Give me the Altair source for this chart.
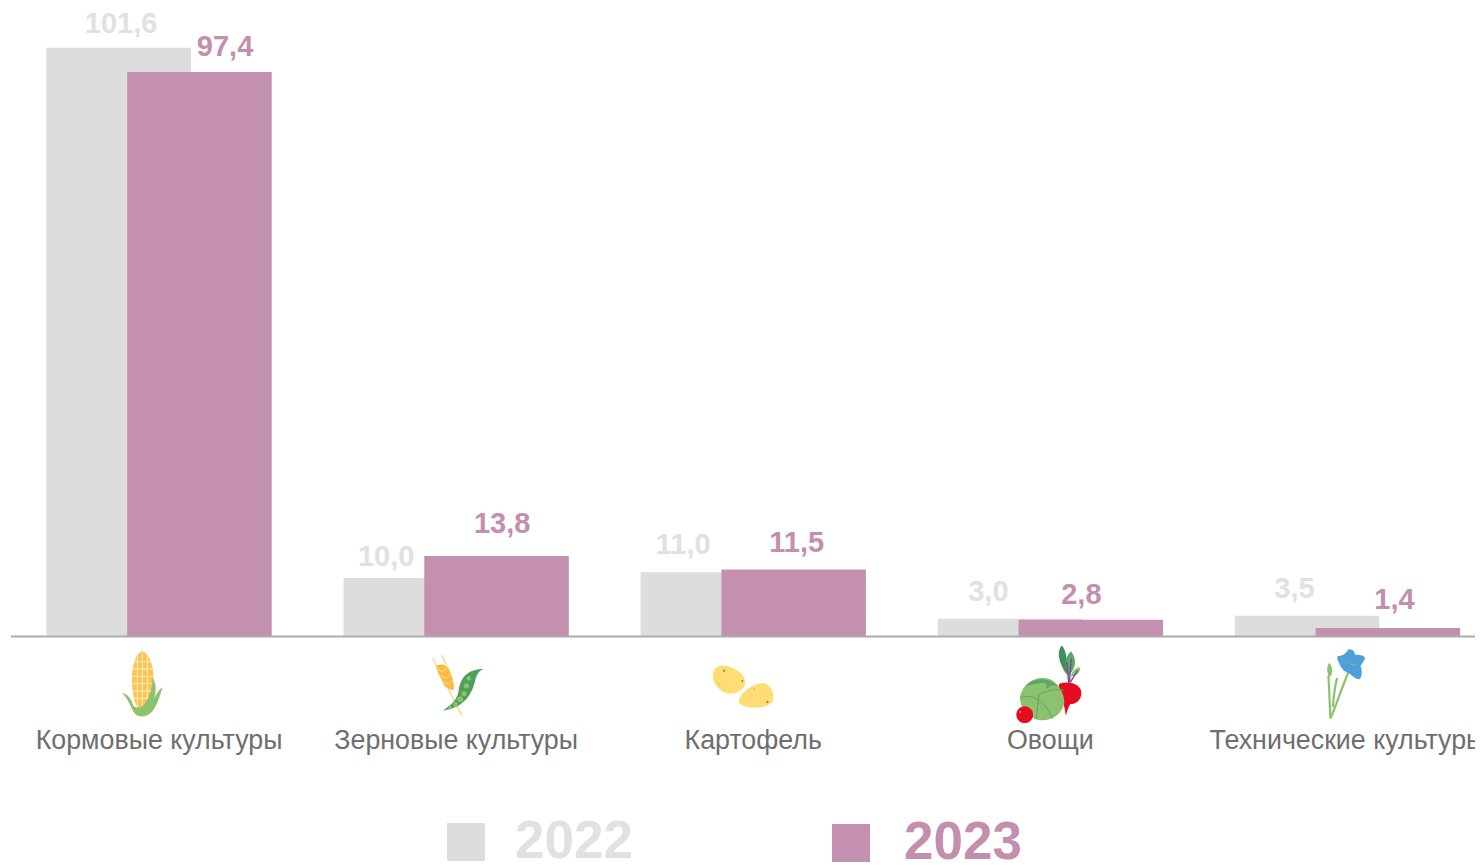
import altair as alt
import pandas as pd

categories = ["Кормовые культуры", "Зерновые культуры", "Картофель", "Овощи", "Технические культуры"]
values_2022 = [101.6, 10.0, 11.0, 3.0, 3.5]
values_2023 = [97.4, 13.8, 11.5, 2.8, 1.4]
years = ["2022", "2023"]

GRAY, PURPLE = "#dddddd", "#c490af"
GRAY_TEXT, PURPLE_TEXT = "#e1e1e1", "#c48fae"
FONT = "Liberation Sans"
PX_PER_UNIT = 5.79
BASE_Y = 628

# per-label nudges (dx, dy) as placed by hand in the original
NUDGE_2022 = [(-38, -24), (-70, -21), (-70, -27), (-62, -26.5), (-53, -27)]
NUDGE_2023 = [(66, -25), (46, -32), (43.5, -26.5), (31, -25), (47, -28)]

x_scale = alt.Scale(domain=categories, range=[2.5, 1488], paddingInner=0, paddingOuter=0)
y_scale = alt.Scale(domain=[0, BASE_Y / PX_PER_UNIT], range=[BASE_Y, 0], nice=False)
X = alt.X("cat:N", scale=x_scale, sort=categories, title=None,
          axis=alt.Axis(domainColor="#ababab", domainWidth=2, ticks=False, labelAngle=0,
                        labelFont=FONT, labelFontSize=26.8, labelColor="#6e6e6e",
                        labelPadding=91, labelOverlap=False, labelBound=False,
                        labelFlush=False, labelLimit=0, grid=False, zindex=1))
Y = alt.Y("v:Q", scale=y_scale, axis=None)

df22 = pd.DataFrame({"cat": categories, "v": values_2022})
df23 = pd.DataFrame({"cat": categories, "v": values_2023})
layers = [
    alt.Chart(df22).mark_bar(size=144.5, xOffset=-40.4, color=GRAY).encode(x=X, y=Y),
    alt.Chart(df23).mark_bar(size=144.5, xOffset=40.4, color=PURPLE).encode(x=X, y=Y),
]


def fmt(v):
    return f"{v:.1f}".replace(".", ",")


for vals, nudges, col in ((values_2022, NUDGE_2022, GRAY_TEXT), (values_2023, NUDGE_2023, PURPLE_TEXT)):
    for c, v, (dx, dy) in zip(categories, vals, nudges):
        d = pd.DataFrame({"cat": [c], "v": [v], "t": [fmt(v)]})
        layers.append(
            alt.Chart(d).mark_text(font=FONT, fontSize=29, fontWeight="bold", color=col,
                                   baseline="middle", align="center", dx=dx, dy=dy)
            .encode(x=X, y=Y, text="t:N")
        )


def circ(cx, cy, r):
    k = 0.5523 * r
    return (f"M{cx-r} {cy} C{cx-r} {cy-k} {cx-k} {cy-r} {cx} {cy-r} "
            f"C{cx+k} {cy-r} {cx+r} {cy-k} {cx+r} {cy} "
            f"C{cx+r} {cy+k} {cx+k} {cy+r} {cx} {cy+r} "
            f"C{cx-k} {cy+r} {cx-r} {cy+k} {cx-r} {cy} Z")


LEAF, DARK, RED, YEL = "#8cc26e", "#4f9f62", "#e60b22", "#fedd75"
# icon artwork: (category, crop left, crop top, [(path, fill, stroke, width), ...])
ICONS = [
    (0, 110, 645, [
        ("M97 18 C75 25 65 70 66 110 C67 150 75 190 97 205 C120 190 135 140 130 90 C128 55 115 25 97 18 Z", "#fdc451", None, 0),
        ("M82 35 V185 M97 20 V200 M112 35 V185 M74 50 H122 M68 72 H128 M66 94 H130 M67 116 H130 M70 138 H128 M74 160 H122", None, "#ffeec4", 1),
        ("M36 143 C52 147 63 160 70 182 C78 190 92 190 100 180 C118 160 128 130 128 98 C138 115 140 135 132 160 C140 145 148 132 158 127 C152 140 147 170 130 195 C118 212 95 220 80 210 C62 197 60 165 36 143 Z", LEAF, None, 0),
    ]),
    (1, 420, 645, [
        ("M38 40 L125 212 M65 30 L78 60", None, "#fbd37f", 1.2),
        ("M48 62 C65 55 80 60 85 70 C95 90 105 120 100 135 C85 135 70 125 65 105 C55 90 50 75 48 62 Z", "#fbbb3f", None, 0),
        ("M52 72 L68 80 L80 68 M60 92 L78 100 L90 88 M70 112 L85 118 L98 108", None, "#ffe0a0", 1),
        ("M68 197 C90 180 108 170 115 140 C120 100 140 72 190 72 C172 78 168 95 163 115 C152 155 125 190 68 197 Z", "#4ca05a", None, 0),
        (circ(146, 100, 7) + circ(139, 123, 8) + circ(132, 146, 8) + circ(120, 163, 9) + circ(106, 178, 7) + circ(90, 188, 5), LEAF, None, 0),
    ]),
    (2, 705, 650, [
        ("M25 70 C28 45 60 40 85 55 C110 65 125 85 120 105 C112 125 85 135 65 130 C40 120 20 95 25 70 Z", YEL, None, 0),
        ("M102 150 C110 125 150 95 180 100 C200 105 208 130 205 150 C195 172 160 175 135 172 C115 170 100 165 102 150 Z", YEL, None, 0),
        (circ(58, 62, 3.5) + circ(113, 93, 3) + circ(188, 156, 3.5), "#8f8a6a", None, 0),
        (circ(44, 103, 3) + circ(148, 117, 3), "#e0c060", None, 0),
    ]),
    (3, 1010, 642, [
        ("M158 10 C142 25 145 60 172 98 C176 60 172 30 158 10 Z", "#3f9060", None, 0),
        ("M185 28 C165 45 165 75 178 102 C198 80 205 55 185 28 Z", "#5aa86a", None, 0),
        ("M185 102 C188 85 205 72 213 78 C212 92 200 104 185 102 Z", LEAF, None, 0),
        ("M172 60 L178 122 M186 50 L180 122 M205 85 L182 122", None, "#7a4a90", 1.4),
        ("M150 125 C185 115 218 130 216 155 C214 178 195 187 183 186 C178 195 173 205 170 222 C167 205 165 195 162 183 C150 170 145 140 150 125 Z", RED, None, 0),
        ("M32 170 C35 130 70 105 105 108 C140 110 165 150 165 180 C160 215 130 235 100 235 C70 235 35 210 32 170 Z", LEAF, None, 0),
        ("M50 130 C70 110 110 100 148 132 C130 125 120 135 110 140 C115 125 105 118 85 125 C70 128 60 130 50 130 Z", "#5aa86a", None, 0),
        ("M32 168 C60 155 100 165 130 230 M85 160 C110 145 140 140 165 145 M80 232 C85 200 85 180 90 160", None, "#5aa86a", 1),
        (circ(46, 218, 25), RED, None, 0),
        (circ(32, 210, 3), "#f08a96", None, 0),
    ]),
    (4, 1305, 642, [
        ("M78 230 C95 190 115 130 132 90 M78 230 L72 100 M85 195 C88 160 92 130 98 108", None, LEAF, 2.2),
        ("M74 62 C86 75 86 95 76 105 C66 95 66 75 74 62 Z", LEAF, None, 0),
        ("M132 22 C145 20 150 30 152 38 C165 38 180 40 182 48 C180 58 172 65 168 72 C175 85 172 108 165 112 C150 110 140 98 132 92 C122 90 110 80 105 65 C100 55 96 48 100 43 C112 42 122 38 132 22 Z", "#4f9fdc", None, 0),
        ("M132 60 C138 70 148 70 155 68", None, "#a6b268", 1),
    ]),
]
CENTERS = [159, 456, 753.5, 1051, 1348]

for idx, left, top, parts in ICONS:
    d = pd.DataFrame({"cat": [categories[idx]]})
    for path, fill, stroke, sw in parts:
        kw = dict(shape=path, size=4 / 9, xOffset=left - CENTERS[idx], opacity=1)
        if fill:
            kw.update(filled=True, fill=fill, strokeWidth=0)
        else:
            kw.update(filled=False, stroke=stroke, strokeWidth=sw)
        layers.append(alt.Chart(d).mark_point(**kw).encode(x=X, y=alt.value(top - 8)))

# legend
LEG = [("2022", GRAY, GRAY_TEXT, 458, 834, 507), ("2023", PURPLE, PURPLE_TEXT, 843, 835, 896)]
for yr, col, tcol, sx, sy, tx in LEG:
    d = pd.DataFrame({"t": [yr]})
    layers.append(alt.Chart(d).mark_square(size=38 * 38, color=col, opacity=1)
                  .encode(x=alt.value(sx), y=alt.value(sy)))
    layers.append(alt.Chart(d).mark_text(font=FONT, fontSize=53, fontWeight="bold", color=tcol,
                                         align="left", baseline="middle")
                  .encode(x=alt.value(tx), y=alt.value(sy), text="t:N"))

chart = (
    alt.layer(*layers)
    .properties(width=1467, height=BASE_Y, autosize="none",
                padding={"left": 0, "top": 0, "right": 0, "bottom": 229})
    .configure_view(stroke=None)
)
chart.save("out.html", embed_options={"renderer": "svg", "actions": False})
